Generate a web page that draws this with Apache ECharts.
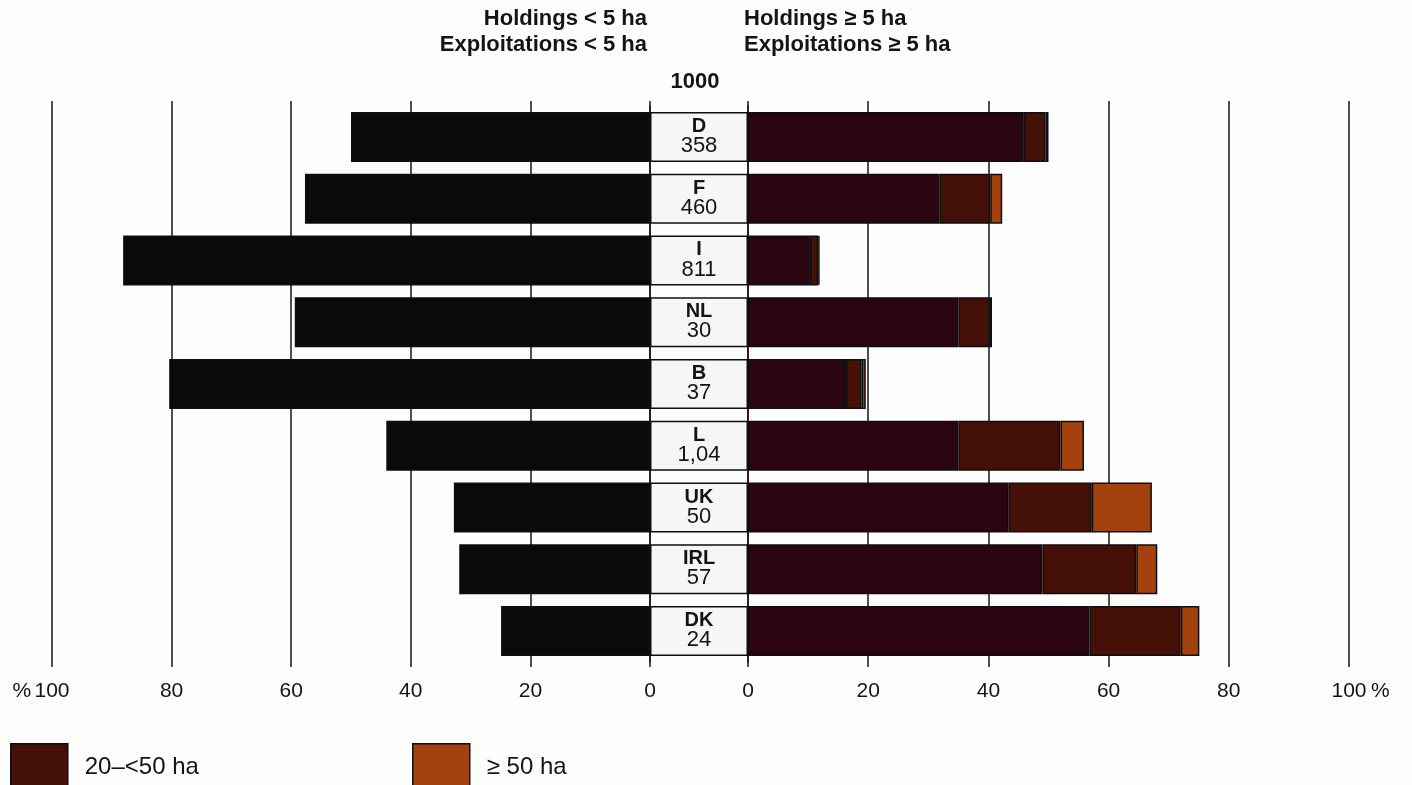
<!DOCTYPE html>
<html>
<head>
<meta charset="utf-8">
<script src="https://cdn.jsdelivr.net/npm/echarts@6/dist/echarts.min.js"></script>
<style>
  html, body { margin: 0; padding: 0; background: #fdfdfd; }
  #chart { width: 1412px; height: 785px; }
</style>
</head>
<body>
<div id="chart"></div>
<script>
// ---- data ----
const countries = ['D', 'F', 'I', 'NL', 'B', 'L', 'UK', 'IRL', 'DK'];
const holdings1000 = ['358', '460', '811', '30', '37', '1,04', '50', '57', '24'];
const under5 = [50.0, 57.7, 88.1, 59.4, 80.4, 44.1, 32.8, 31.9, 24.9];
const ha5to20 = [45.9, 31.9, 10.3, 35.0, 16.3, 35.0, 43.3, 49.0, 56.8];
const ha20to50 = [3.6, 8.4, 1.4, 5.2, 2.6, 17.0, 13.9, 15.6, 15.2];
const ha50plus = [0.5, 2.0, 0.2, 0.4, 0.7, 3.9, 10.0, 3.5, 3.1];

const FONT = '"Liberation Sans", Arial, Helvetica, sans-serif';
const INK = '#141414';
const BAR_W = 50;

const chart = echarts.init(document.getElementById('chart'));

function tickLabel(side) {
  return function (v) {
    if (v === 100) return side === 'left' ? '{p|% }100{s|}' : '{s|}100{p| %}';
    return String(v);
  };
}
const richPct = {
  p: { fontSize: 21, fontFamily: FONT, color: INK, width: 22, align: 'left' },
  s: { width: 22 }
};

function valueAxis(gridIndex, inverse, side, position) {
  const top = position === 'top';
  return {
    type: 'value', gridIndex: gridIndex, min: 0, max: 100, interval: 20, inverse: inverse,
    position: position,
    axisLine: { show: false },
    axisTick: { show: true, length: 5, lineStyle: { color: INK, width: 1.5 } },
    axisLabel: top ? { show: false } : {
      show: true, margin: 19, fontSize: 21, fontFamily: FONT, color: INK,
      formatter: tickLabel(side), rich: richPct
    },
    splitLine: { show: !top, lineStyle: { color: INK, width: 1.5 } }
  };
}

function catAxis(gridIndex, position, showLine) {
  return {
    type: 'category', gridIndex: gridIndex, data: countries, inverse: true, position: position,
    axisLine: { show: showLine, lineStyle: { color: INK, width: 1.5 } },
    axisTick: { show: false }, axisLabel: { show: false }, splitLine: { show: false }
  };
}

const segStyle = (c) => ({ color: c, borderColor: '#0e0e0e', borderWidth: 1.5 });
const titleStyle = { fontSize: 22, fontWeight: 'bold', fontFamily: FONT, color: INK };
const legendCommon = {
  top: 743, itemWidth: 57, itemHeight: 48, itemGap: 10, padding: 0, icon: 'rect',
  textStyle: { fontSize: 24, fontFamily: FONT, color: INK, padding: [0, 0, 0, 12] },
  itemStyle: { borderColor: '#0e0e0e', borderWidth: 1.5 }
};

const option = {
  backgroundColor: '#fdfdfd',
  animation: false,
  title: [
    { text: 'Holdings < 5 ha', right: 1412 - 647, top: 8, padding: 0, textStyle: titleStyle },
    { text: 'Exploitations < 5 ha', right: 1412 - 647, top: 34, padding: 0, textStyle: titleStyle },
    { text: 'Holdings \u2265 5 ha', left: 744, top: 8, padding: 0, textStyle: titleStyle },
    { text: 'Exploitations \u2265 5 ha', left: 744, top: 34, padding: 0, textStyle: titleStyle },
    { text: '1000', left: 695, textAlign: 'center', top: 71, padding: 0, textStyle: titleStyle }
  ],
  legend: [
    Object.assign({ data: ['20\u2013<50 ha'], left: 10 }, legendCommon),
    Object.assign({ data: ['\u2265 50 ha'], left: 412 }, legendCommon)
  ],
  grid: [
    { left: 52, right: 1412 - 650, top: 106, bottom: 785 - 662 },
    { left: 748, right: 1412 - 1349, top: 106, bottom: 785 - 662 },
    { left: 650, right: 1412 - 748, top: 106, bottom: 785 - 662 }
  ],
  xAxis: [
    valueAxis(0, true, 'left', 'bottom'),
    valueAxis(1, false, 'right', 'bottom'),
    { type: 'value', gridIndex: 2, min: 0, max: 1, show: false },
    valueAxis(0, true, 'left', 'top'),
    valueAxis(1, false, 'right', 'top')
  ],
  yAxis: [
    catAxis(0, 'right', true),
    catAxis(1, 'left', true),
    catAxis(2, 'left', false)
  ],
  series: [
    {
      name: '< 5 ha', type: 'bar', xAxisIndex: 0, yAxisIndex: 0, barWidth: BAR_W,
      data: under5, itemStyle: segStyle('#0a0a0a')
    },
    {
      name: '5\u2013<20 ha', type: 'bar', stack: 'big', xAxisIndex: 1, yAxisIndex: 1, barWidth: BAR_W,
      data: ha5to20, itemStyle: segStyle('#2b0510')
    },
    {
      name: '20\u2013<50 ha', type: 'bar', stack: 'big', xAxisIndex: 1, yAxisIndex: 1, barWidth: BAR_W,
      data: ha20to50, itemStyle: segStyle('#451008')
    },
    {
      name: '\u2265 50 ha', type: 'bar', stack: 'big', xAxisIndex: 1, yAxisIndex: 1, barWidth: BAR_W,
      data: ha50plus, itemStyle: segStyle('#a3420f')
    },
    {
      name: 'labels', type: 'bar', xAxisIndex: 2, yAxisIndex: 2, barWidth: BAR_W,
      data: countries.map(() => 1),
      itemStyle: { color: '#f6f6f6', borderColor: '#0e0e0e', borderWidth: 1.5 },
      silent: true,
      label: {
        show: true, position: 'inside',
        formatter: (p) => '{a|' + countries[p.dataIndex] + '}\n{b|' + holdings1000[p.dataIndex] + '}',
        rich: {
          a: { fontSize: 20, fontWeight: 'bold', fontFamily: FONT, color: INK, lineHeight: 18, align: 'center' },
          b: { fontSize: 22, fontFamily: FONT, color: INK, lineHeight: 21, align: 'center' }
        }
      }
    }
  ]
};
chart.setOption(option);
</script>
</body>
</html>
